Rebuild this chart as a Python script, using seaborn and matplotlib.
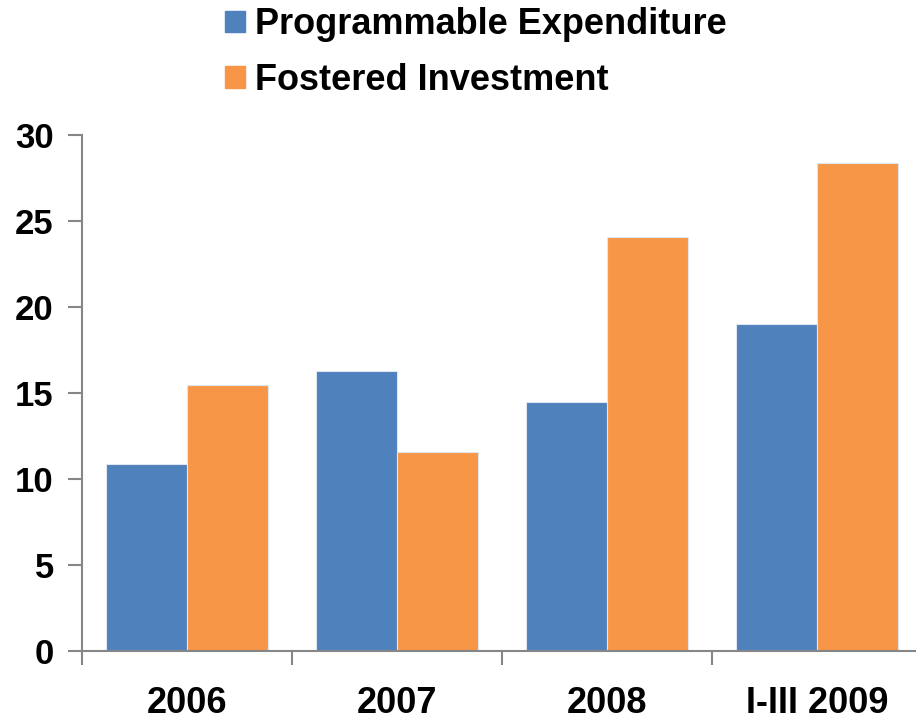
import numpy as np
import pandas as pd
import matplotlib
matplotlib.use('Agg')
import matplotlib.pyplot as plt
import seaborn as sns

# 데이터
years = ['2006', '2007', '2008', 'I-III 2009']
prog_exp = [10.9, 16.3, 14.5, 19.0]
fost_inv = [15.5, 11.6, 24.1, 28.4]
series_names = ['Programmable Expenditure', 'Fostered Investment']
colors = ['#4F81BD', '#F79646']

df = pd.DataFrame({
    'year': years * 2,
    'value': prog_exp + fost_inv,
    'series': [series_names[0]] * 4 + [series_names[1]] * 4,
})

sns.set_style('white')
plt.rcParams['font.family'] = ['Liberation Sans', 'DejaVu Sans']
plt.rcParams['text.color'] = 'black'
plt.rcParams['xtick.color'] = 'black'
plt.rcParams['ytick.color'] = 'black'

fig = plt.figure(figsize=(9.16, 7.22), dpi=100)
ax = fig.add_axes([0.089, 0.098, 0.918, 0.715])

sns.barplot(data=df, x='year', y='value', hue='series', palette=colors,
            saturation=1, width=0.77, ax=ax, edgecolor='#dfe6ef',
            linewidth=0.8, legend=False)

ax.set_ylim(0, 30)
ax.set_xlim(-0.5, 3.5)
ax.set_yticks(range(0, 31, 5))
ax.set_yticklabels([str(v) for v in range(0, 31, 5)], fontsize=25, fontweight='bold')
ax.tick_params(axis='y', length=10, width=1.5, color='#868686', pad=10, left=True)

# 카테고리 경계 눈금
ax.set_xticks(np.arange(-0.5, 4, 1))
ax.set_xticklabels([])
ax.tick_params(axis='x', which='major', length=10, width=1.5, color='#868686', bottom=True)
ax.set_xticks(range(4), minor=True)
ax.set_xticklabels(years, minor=True, fontsize=26, fontweight='bold')
ax.tick_params(axis='x', which='minor', length=0, pad=25)
ax.set_xlabel('')
ax.set_ylabel('')

for s in ['top', 'right']:
    ax.spines[s].set_visible(False)
for s in ['left', 'bottom']:
    ax.spines[s].set_color('#868686')
    ax.spines[s].set_linewidth(1.5)

handles = [plt.Rectangle((0, 0), 1, 1, color=c) for c in colors]
fig.legend(handles, series_names, loc='upper left', bbox_to_anchor=(0.21, 1.035),
           frameon=False, prop={'size': 26, 'weight': 'bold'},
           handlelength=0.55, handleheight=0.55, handletextpad=0.28, labelspacing=0.57)

fig.savefig('out.png', dpi=100)
